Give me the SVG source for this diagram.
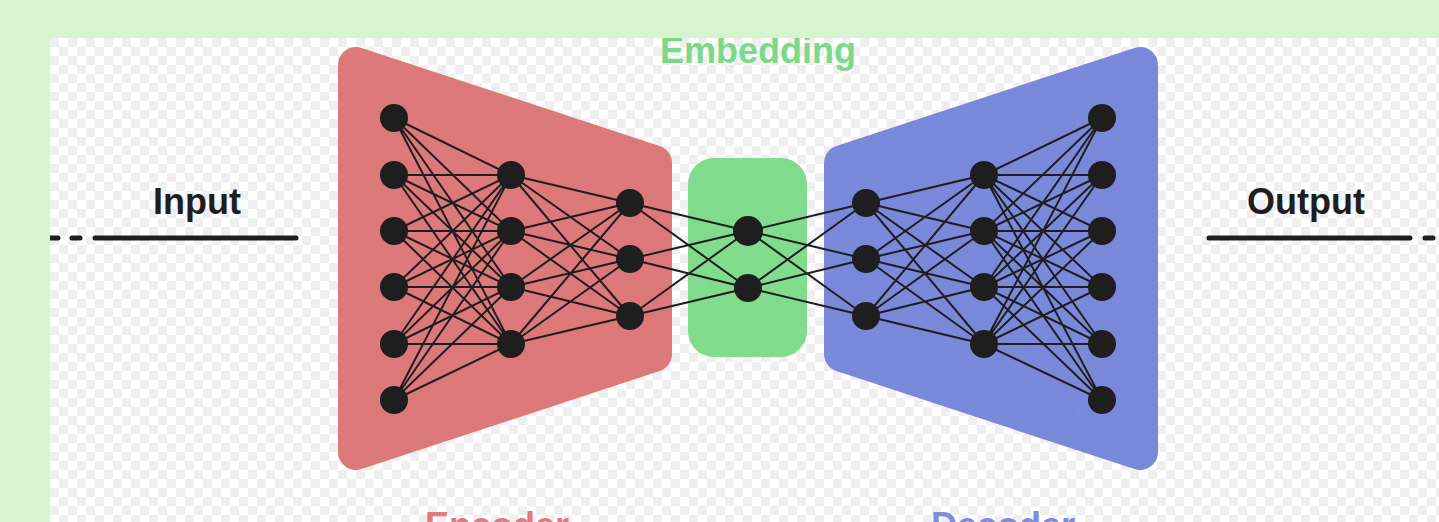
<svg xmlns="http://www.w3.org/2000/svg" width="1439" height="522" viewBox="0 0 1439 522">
  <defs>
    <pattern id="checker" x="50" y="38" width="18" height="18" patternUnits="userSpaceOnUse">
      <rect width="18" height="18" fill="#ffffff"/>
      <rect width="9" height="9" fill="#efefef"/>
      <rect x="9" y="9" width="9" height="9" fill="#efefef"/>
    </pattern>
    <clipPath id="canvas">
      <rect x="50" y="38" width="1389" height="484"/>
    </clipPath>
  </defs>
  <style>
    .edge { stroke: #1e1e1e; stroke-width: 2; fill: none; }
    .node { fill: #1e1e1e; }
    .label { font-family: "Liberation Sans", Arial, sans-serif; font-weight: bold; font-size: 36px; text-anchor: middle; }
    .io-line { stroke: #1e1e1e; stroke-width: 5; stroke-linecap: round; fill: none; }
  </style>

  <!-- outer frame -->
  <rect x="0" y="0" width="1439" height="522" fill="#d8f3d0"/>

  <g clip-path="url(#canvas)">
    <rect x="50" y="38" width="1389" height="484" fill="url(#checker)"/>

    <!-- encoder panel: inset trapezoid, round joins give the rounded corners -->
    <g id="encoder" opacity="0.92">
      <polygon points="356,65 654,163 654,354 356,452" fill="#db6e70" stroke="#db6e70" stroke-width="36" stroke-linejoin="round"/>
    </g>
    <!-- embedding panel -->
    <g id="embedding" opacity="0.92">
      <rect x="688" y="158" width="119" height="199" rx="26" fill="#76d983"/>
    </g>
    <!-- decoder panel: mirror of the encoder about x=748 -->
    <g id="decoder" opacity="0.92">
      <polygon points="1140,65 842,163 842,354 1140,452" fill="#6f80d8" stroke="#6f80d8" stroke-width="36" stroke-linejoin="round"/>
    </g>

    <!-- labels -->
    <text class="label" x="758" y="63" fill="#7dd98a">Embedding</text>
    <text class="label" x="497" y="538" fill="#e07c7e">Encoder</text>
    <text class="label" x="1003" y="538" fill="#7b8ddb">Decoder</text>
    <text class="label" x="197" y="214" fill="#1e1e1e">Input</text>
    <text class="label" x="1306" y="214" fill="#1e1e1e">Output</text>

    <!-- input / output leads -->
    <g id="io-lines">
      <line class="io-line" x1="50" y1="238" x2="58" y2="238"/>
      <line class="io-line" x1="72" y1="238" x2="80" y2="238"/>
      <line class="io-line" x1="95" y1="238" x2="296" y2="238"/>
      <line class="io-line" x1="1209" y1="238" x2="1410" y2="238"/>
      <line class="io-line" x1="1425" y1="238" x2="1433" y2="238"/>
    </g>

    <!-- connectors: every node is joined to every node of the next layer -->
    <g id="connectors" class="edge">
      <!-- encoder layer 1 -> layer 2 -->
      <path d="M394,118L511,175M394,118L511,231M394,118L511,287M394,118L511,344
               M394,175L511,175M394,175L511,231M394,175L511,287M394,175L511,344
               M394,231L511,175M394,231L511,231M394,231L511,287M394,231L511,344
               M394,287L511,175M394,287L511,231M394,287L511,287M394,287L511,344
               M394,344L511,175M394,344L511,231M394,344L511,287M394,344L511,344
               M394,400L511,175M394,400L511,231M394,400L511,287M394,400L511,344"/>
      <!-- encoder layer 2 -> layer 3 -->
      <path d="M511,175L630,203M511,175L630,259M511,175L630,316
               M511,231L630,203M511,231L630,259M511,231L630,316
               M511,287L630,203M511,287L630,259M511,287L630,316
               M511,344L630,203M511,344L630,259M511,344L630,316"/>
      <!-- encoder layer 3 -> embedding -->
      <path d="M630,203L748,231M630,203L748,288
               M630,259L748,231M630,259L748,288
               M630,316L748,231M630,316L748,288"/>
      <!-- embedding -> decoder layer 1 -->
      <path d="M748,231L866,203M748,231L866,259M748,231L866,316
               M748,288L866,203M748,288L866,259M748,288L866,316"/>
      <!-- decoder layer 1 -> layer 2 -->
      <path d="M866,203L984,175M866,203L984,231M866,203L984,287M866,203L984,344
               M866,259L984,175M866,259L984,231M866,259L984,287M866,259L984,344
               M866,316L984,175M866,316L984,231M866,316L984,287M866,316L984,344"/>
      <!-- decoder layer 2 -> layer 3 -->
      <path d="M984,175L1102,118M984,175L1102,175M984,175L1102,231M984,175L1102,287M984,175L1102,344M984,175L1102,400
               M984,231L1102,118M984,231L1102,175M984,231L1102,231M984,231L1102,287M984,231L1102,344M984,231L1102,400
               M984,287L1102,118M984,287L1102,175M984,287L1102,231M984,287L1102,287M984,287L1102,344M984,287L1102,400
               M984,344L1102,118M984,344L1102,175M984,344L1102,231M984,344L1102,287M984,344L1102,344M984,344L1102,400"/>
    </g>

    <!-- encoder nodes -->
    <g id="enc-1-1"><circle class="node" cx="394" cy="118" r="14"/></g>
    <g id="enc-1-2"><circle class="node" cx="394" cy="175" r="14"/></g>
    <g id="enc-1-3"><circle class="node" cx="394" cy="231" r="14"/></g>
    <g id="enc-1-4"><circle class="node" cx="394" cy="287" r="14"/></g>
    <g id="enc-1-5"><circle class="node" cx="394" cy="344" r="14"/></g>
    <g id="enc-1-6"><circle class="node" cx="394" cy="400" r="14"/></g>
    <g id="enc-2-1"><circle class="node" cx="511" cy="175" r="14"/></g>
    <g id="enc-2-2"><circle class="node" cx="511" cy="231" r="14"/></g>
    <g id="enc-2-3"><circle class="node" cx="511" cy="287" r="14"/></g>
    <g id="enc-2-4"><circle class="node" cx="511" cy="344" r="14"/></g>
    <g id="enc-3-1"><circle class="node" cx="630" cy="203" r="14"/></g>
    <g id="enc-3-2"><circle class="node" cx="630" cy="259" r="14"/></g>
    <g id="enc-3-3"><circle class="node" cx="630" cy="316" r="14"/></g>

    <!-- embedding nodes -->
    <g id="emb-1"><circle class="node" cx="748" cy="231" r="15"/></g>
    <g id="emb-2"><circle class="node" cx="748" cy="288" r="14"/></g>

    <!-- decoder nodes -->
    <g id="dec-1-1"><circle class="node" cx="866" cy="203" r="14"/></g>
    <g id="dec-1-2"><circle class="node" cx="866" cy="259" r="14"/></g>
    <g id="dec-1-3"><circle class="node" cx="866" cy="316" r="14"/></g>
    <g id="dec-2-1"><circle class="node" cx="984" cy="175" r="14"/></g>
    <g id="dec-2-2"><circle class="node" cx="984" cy="231" r="14"/></g>
    <g id="dec-2-3"><circle class="node" cx="984" cy="287" r="14"/></g>
    <g id="dec-2-4"><circle class="node" cx="984" cy="344" r="14"/></g>
    <g id="dec-3-1"><circle class="node" cx="1102" cy="118" r="14"/></g>
    <g id="dec-3-2"><circle class="node" cx="1102" cy="175" r="14"/></g>
    <g id="dec-3-3"><circle class="node" cx="1102" cy="231" r="14"/></g>
    <g id="dec-3-4"><circle class="node" cx="1102" cy="287" r="14"/></g>
    <g id="dec-3-5"><circle class="node" cx="1102" cy="344" r="14"/></g>
    <g id="dec-3-6"><circle class="node" cx="1102" cy="400" r="14"/></g>
  </g>
</svg>
